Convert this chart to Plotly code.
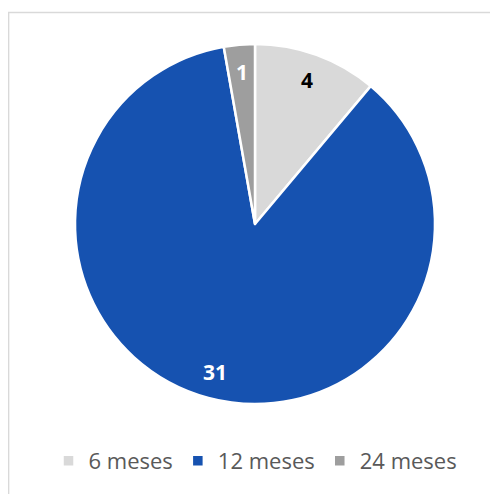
import math
import plotly.graph_objects as go

categories = ["6 meses", "12 meses", "24 meses"]
values = [4, 31, 1]
colors = ["#D9D9D9", "#1652B0", "#9E9E9E"]
text_colors = ["#000000", "#FFFFFF", "#FFFFFF"]

W, H = 498, 494
# page body has an 8px margin, so paper coords are shifted by 8px
cx, cy, r = 247, 216, 180

fig = go.Figure(go.Pie(
    labels=categories,
    values=values,
    sort=False,
    direction="clockwise",
    rotation=0,
    marker=dict(colors=colors, line=dict(color="#FFFFFF", width=2.5)),
    textinfo="none",
    domain=dict(x=[(cx - r) / W, (cx + r) / W], y=[(H - cy - r) / H, (H - cy + r) / H]),
    hoverinfo="skip",
))

# data labels at 0.85 r along each slice's mid-angle (derived from values)
total = sum(values)
cum = 0
annotations = []
for v, tc in zip(values, text_colors):
    mid = (cum + v / 2) / total * 2 * math.pi
    cum += v
    px = cx + 0.85 * r * math.sin(mid)
    py = cy - 0.85 * r * math.cos(mid)
    annotations.append(dict(
        x=px / W, y=(H - py) / H, xref="paper", yref="paper",
        text=f"<b>{v}</b>", showarrow=False, xanchor="center", yanchor="middle",
        font=dict(family="Open Sans", size=21, color=tc),
    ))

fig.update_layout(
    width=W, height=H,
    margin=dict(l=0, r=0, t=0, b=0),
    paper_bgcolor="white",
    plot_bgcolor="white",
    showlegend=True,
    legend=dict(
        orientation="h", x=0.497, xanchor="center", y=(H - 453) / H, yanchor="middle",
        font=dict(family="Open Sans", size=22, color="#595959"),
        itemwidth=30, traceorder="normal",
    ),
    annotations=annotations,
    shapes=[dict(type="rect", xref="paper", yref="paper",
                 x0=0.6 / W, x1=1.05, y0=-0.05, y1=1 - 4.5 / H,
                 line=dict(color="#D9D9D9", width=1.5), layer="below")],
)

fig.write_html("out.html")
